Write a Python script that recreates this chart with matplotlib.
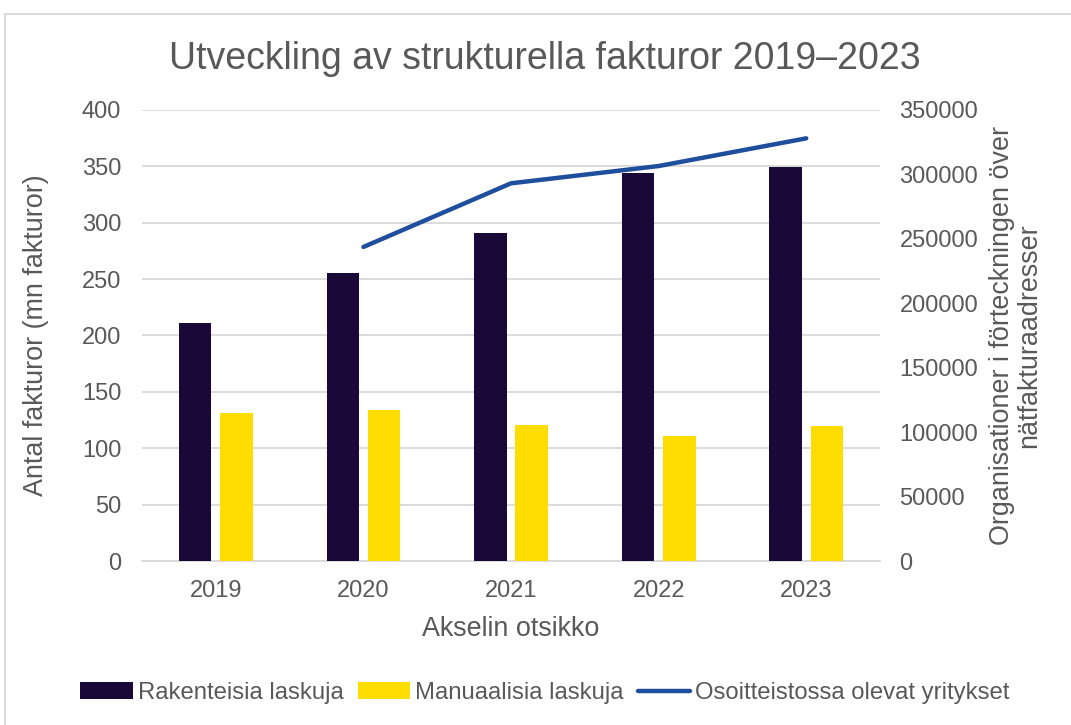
import numpy as np
import matplotlib.pyplot as plt
from matplotlib.patches import Rectangle

plt.rcParams['font.family'] = ['Liberation Sans', 'DejaVu Sans']

# Data
years = ['2019', '2020', '2021', '2022', '2023']
structured = [211, 255, 291, 344, 349]       # Rakenteisia laskuja (mn)
manual = [131, 134, 121, 111, 120]           # Manuaalisia laskuja (mn)
line_years = ['2020', '2021', '2022', '2023']
companies = [243700, 293100, 306500, 328000]  # Osoitteistossa olevat yritykset

grey = '#595959'
grid_col = '#d9d9d9'
dark = '#1a0838'
yellow = '#ffdd00'
blue = '#1f4e9c'

fig = plt.figure(figsize=(10.71, 7.25), dpi=100)
# outer chart border (only top and left visible in the crop)
fig.patches.append(Rectangle((5 / 1071, -0.2), 1.2, 1.2 - 14 / 725, transform=fig.transFigure,
                             fill=False, edgecolor=grid_col, linewidth=1.3))

ax = fig.add_axes([0.1326, 0.2262, 0.8217 - 0.1326, 0.8483 - 0.2262])
x = np.arange(len(years))
w = 0.22
ax.bar(x - 0.14, structured, w, color=dark, label='Rakenteisia laskuja', zorder=3)
ax.bar(x + 0.14, manual, w, color=yellow, label='Manuaalisia laskuja', zorder=3)

ax.set_xlim(-0.5, len(years) - 0.5)
ax.set_ylim(0, 400)
ax.set_yticks(np.arange(0, 401, 50))
ax.set_xticks(x)
ax.set_xticklabels(years)
ax.yaxis.grid(True, color=grid_col, linewidth=1.3, zorder=0)
ax.set_axisbelow(True)
for s in ['top', 'right', 'left']:
    ax.spines[s].set_visible(False)
ax.spines['bottom'].set_color(grid_col)
ax.spines['bottom'].set_linewidth(1.3)
ax.tick_params(axis='both', length=0, labelsize=17, labelcolor=grey)
ax.tick_params(axis='y', pad=15)
ax.tick_params(axis='x', pad=14)
ax.set_ylabel('Antal fakturor (mn fakturor)', fontsize=19.4, color=grey)
ax.yaxis.set_label_coords(-0.126, 0.5)
ax.set_xlabel('Akselin otsikko', fontsize=19.4, color=grey)
ax.xaxis.set_label_coords(0.5, -0.122)

ax2 = ax.twinx()
lx = [years.index(y) for y in line_years]
ax2.plot(lx, companies, color=blue, linewidth=3.2, solid_capstyle='round',
         label='Osoitteistossa olevat yritykset', zorder=4)
ax2.set_ylim(0, 350000)
ax2.set_yticks(np.arange(0, 350001, 50000))
for s in ['top', 'right', 'left', 'bottom']:
    ax2.spines[s].set_visible(False)
ax2.tick_params(axis='y', length=0, labelsize=17, labelcolor=grey, pad=14)
ax2.set_ylabel('Organisationer i förteckningen över\nnätfakturaadresser', fontsize=19.4,
               color=grey, multialignment='center', linespacing=1.05)
ax2.yaxis.set_label_coords(1.148, 0.5)

fig.text(545 / 1071, 1 - 59 / 725, 'Utveckling av strukturella fakturor 2019–2023',
         ha='center', va='center', fontsize=27, color=grey)

h1, l1 = ax.get_legend_handles_labels()
h2, l2 = ax2.get_legend_handles_labels()
fig.legend(h1 + h2, l1 + l2, loc='center', bbox_to_anchor=(545 / 1071, 1 - 693 / 725),
           ncol=3, frameon=False, fontsize=17.2, labelcolor=grey, handlelength=2.2,
           handleheight=0.7, handletextpad=0.2, columnspacing=0.6)

fig.savefig('out.png', dpi=100)
